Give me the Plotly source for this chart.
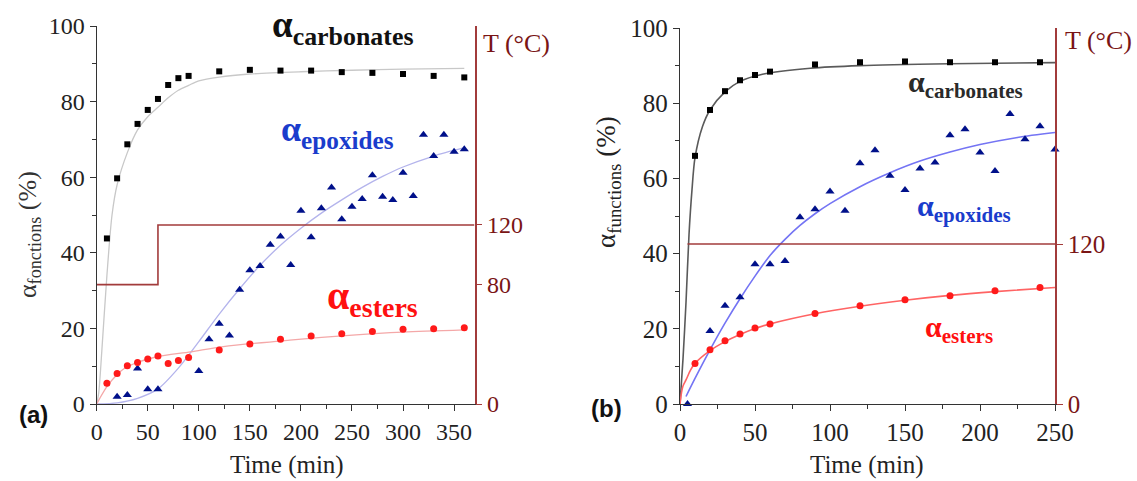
import plotly.graph_objects as go

# ---------------- Panel (a) data ----------------
a_carb_t = [10, 20, 30, 40, 50, 60, 70, 80, 90, 120, 150, 180, 210, 240, 270, 300, 330, 360]
a_carb_v = [43.8, 59.7, 68.7, 74.1, 77.8, 80.7, 84.4, 86.2, 86.8, 88.0, 88.4, 88.2, 88.2, 87.8, 87.6, 87.3, 86.8, 86.4]
a_carb_fit_t = [0, 2, 5, 10, 15, 20, 30, 40, 50, 60, 70, 80, 90, 100, 120, 150, 200, 250, 300, 360]
a_carb_fit_v = [0, 3, 14, 34, 50, 58, 66.5, 72.5, 76, 78.5, 81, 83, 84.3, 85.5, 86.5, 87.3, 87.9, 88.3, 88.6, 88.8]

a_epo_t = [20, 30, 40, 50, 60, 100, 110, 120, 130, 140, 150, 160, 170, 180, 190, 200, 210, 220, 230, 240,
           250, 260, 270, 280, 290, 300, 310, 320, 330, 340, 350, 360]
a_epo_v = [1.9, 2.4, 9.4, 3.9, 3.9, 8.7, 17.1, 21.2, 18.1, 30.2, 35.4, 36.5, 42.1, 44.3, 36.8, 51.1, 44.1, 51.8, 57.3, 48.9,
           52.2, 54.2, 60.5, 54.8, 54.0, 61.2, 55.0, 71.2, 65.6, 71.2, 66.7, 67.4]
a_epo_fit_t = [0, 20, 40, 60, 80, 100, 120, 140, 160, 180, 200, 220, 240, 260, 280, 300, 330, 360]
a_epo_fit_v = [0, 0.3, 1.5, 4.0, 9.5, 16.5, 23.8, 30.5, 36.7, 42.0, 46.5, 50.5, 54.0, 57.3, 60.2, 62.7, 65.6, 67.8]

a_est_t = [10, 20, 30, 40, 50, 60, 70, 80, 90, 120, 150, 180, 210, 240, 270, 300, 330, 360]
a_est_v = [5.5, 8.1, 10.1, 11.0, 11.9, 12.7, 10.7, 11.5, 12.3, 14.3, 15.9, 17.1, 18.0, 18.6, 19.2, 19.8, 19.9, 20.2]
a_est_fit_t = [0, 3, 10, 20, 27, 40, 59, 92, 124, 189, 254, 300, 360]
a_est_fit_v = [0, 1.5, 4.6, 7.8, 9.4, 11, 12.5, 13.8, 15.2, 16.9, 18.3, 19.0, 19.6]

a_temp_t = [0, 60, 60, 370]
a_temp_v = [80, 80, 120, 120]

# ---------------- Panel (b) data ----------------
b_carb_t = [10, 20, 30, 40, 50, 60, 90, 120, 150, 180, 210, 240]
b_carb_v = [66.0, 78.2, 83.2, 86.1, 87.5, 88.4, 90.3, 90.9, 91.1, 90.9, 90.9, 90.9]
b_carb_fit_t = [0, 2, 4, 6, 8, 10, 15, 20, 30, 40, 55, 87, 120, 180, 250]
b_carb_fit_v = [0, 12, 27, 45, 57, 65.5, 73.8, 78.2, 83, 85.8, 87.7, 89.3, 90, 90.5, 90.8]

b_epo_t = [5, 20, 30, 40, 50, 60, 70, 80, 90, 100, 110, 120, 130, 140, 150, 160, 170, 180, 190, 200,
           210, 220, 230, 240, 250]
b_epo_v = [0, 19.4, 26.1, 28.4, 37.2, 37.2, 38.0, 49.7, 51.8, 56.5, 51.4, 64.0, 67.5, 60.7, 56.9, 62.6, 64.2, 71.5, 73.1, 66.9,
           62.0, 77.1, 70.4, 73.9, 67.7]
b_epo_fit_t = [4, 10, 20, 30, 40, 50, 60, 70, 80, 90, 100, 120, 140, 160, 180, 200, 225, 250]
b_epo_fit_v = [2, 6.8, 14.4, 21.5, 28.0, 34.0, 39.5, 43.8, 47.5, 50.6, 53.3, 57.8, 61.5, 64.6, 67.0, 69.0, 70.9, 72.2]

b_est_t = [10, 20, 30, 40, 50, 60, 90, 120, 150, 180, 210, 240]
b_est_v = [10.8, 14.4, 16.8, 18.6, 20.2, 21.3, 24.1, 26.1, 27.7, 28.8, 30.1, 31.0]
b_est_fit_t = [0, 1, 2, 4, 7, 10, 20, 30, 40, 50, 60, 90, 120, 150, 180, 210, 250]
b_est_fit_v = [0, 3, 4.8, 6.4, 9, 10.8, 14.2, 16.6, 18.5, 20.1, 21.3, 24, 26, 27.6, 28.9, 29.9, 31]

b_temp_t = [5, 250]
b_temp_v = [120, 120]

# ---------------- styling ----------------
W, H = 1137, 481
SERIF = "Liberation Serif"
SANS = "Liberation Sans"
TEMP = "#a23b3b"
TEMP_TXT = "#7a1515"
AX = "#333333"

def px_x(p):
    return p / W

def px_y(p):
    return 1 - p / H

fig = go.Figure()

def line(x, y, color, xa, ya, width=1.3):
    fig.add_trace(go.Scatter(x=x, y=y, mode="lines", line=dict(color=color, width=width, shape="spline", smoothing=0.8),
                             xaxis=xa, yaxis=ya, showlegend=False, hoverinfo="skip"))

def pts(x, y, color, symbol, size, xa, ya):
    fig.add_trace(go.Scatter(x=x, y=y, mode="markers", marker=dict(color=color, symbol=symbol, size=size, line=dict(width=0)),
                             xaxis=xa, yaxis=ya, showlegend=False, cliponaxis=False))

# Panel (a)
fig.add_trace(go.Scatter(x=a_temp_t, y=a_temp_v, mode="lines", line=dict(color=TEMP, width=1.6),
                         xaxis="x", yaxis="y2", showlegend=False))
line(a_carb_fit_t, a_carb_fit_v, "#c8c8c8", "x", "y")
line(a_epo_fit_t, a_epo_fit_v, "#b4b4ec", "x", "y")
line(a_est_fit_t, a_est_fit_v, "#f4a8a8", "x", "y")
pts(a_carb_t, a_carb_v, "#000000", "square", 6, "x", "y")
pts(a_epo_t, a_epo_v, "#00108a", "triangle-up", 8, "x", "y")
pts(a_est_t, a_est_v, "#ff1a1a", "circle", 7, "x", "y")

# Panel (b)
fig.add_trace(go.Scatter(x=b_temp_t, y=b_temp_v, mode="lines", line=dict(color=TEMP, width=1.6),
                         xaxis="x2", yaxis="y4", showlegend=False))
line(b_carb_fit_t, b_carb_fit_v, "#5a5a5a", "x2", "y3", 1.6)
line(b_epo_fit_t, b_epo_fit_v, "#7474f4", "x2", "y3", 1.6)
line(b_est_fit_t, b_est_fit_v, "#ff6464", "x2", "y3", 1.6)
pts(b_carb_t, b_carb_v, "#000000", "square", 6, "x2", "y3")
pts(b_epo_t, b_epo_v, "#00108a", "triangle-up", 8, "x2", "y3")
pts(b_est_t, b_est_v, "#ff1a1a", "circle", 7, "x2", "y3")

tickfont_a = dict(family=SERIF, size=24, color="#222222")
tickfont_b = dict(family=SERIF, size=25, color="#222222")

common = dict(showgrid=False, zeroline=False, showline=True, linecolor=AX, linewidth=1.3, automargin=False,
              ticks="outside", ticklen=6, tickcolor=AX, tickwidth=1.2)
right = dict(showgrid=False, zeroline=False, showline=True, linecolor=TEMP, linewidth=1.6, automargin=False,
             ticks="outside", ticklen=6, tickcolor=TEMP, tickwidth=1.2)

fig.update_layout(
    template="none",
    width=W, height=H, margin=dict(l=0, r=0, t=0, b=0, pad=0),
    paper_bgcolor="white", plot_bgcolor="rgba(0,0,0,0)", showlegend=False,
    font=dict(family=SERIF),
    xaxis=dict(domain=[px_x(96.7), px_x(474.5)], range=[0, 370], anchor="y", tickvals=[0, 50, 100, 150, 200, 250, 300, 350],
               minor=dict(ticks="outside", ticklen=4, dtick=25, tick0=0, tickcolor=AX), tickfont=tickfont_a, **common),
    yaxis=dict(domain=[px_y(404), px_y(26)], range=[0, 100], anchor="x", dtick=20,
               minor=dict(ticks="outside", ticklen=4, dtick=10, tickcolor=AX), tickfont=tickfont_a, **common),
    yaxis2=dict(overlaying="y", side="right", anchor="x", range=[0, 253.4], tickvals=[0, 80, 120],
                tickfont=dict(family=SERIF, size=24, color=TEMP_TXT), **right),
    xaxis2=dict(domain=[px_x(680), px_x(1055)], range=[0, 250], anchor="y3", dtick=50,
                minor=dict(ticks="outside", ticklen=4, dtick=25, tickcolor=AX), tickfont=tickfont_b, **common),
    yaxis3=dict(domain=[px_y(404), px_y(28)], range=[0, 100], anchor="x2", dtick=20,
                minor=dict(ticks="outside", ticklen=4, dtick=10, tickcolor=AX), tickfont=tickfont_b, **common),
    yaxis4=dict(overlaying="y3", side="right", anchor="x2", range=[0, 282], tickvals=[0, 120],
                tickfont=dict(family=SERIF, size=25, color=TEMP_TXT), **right),
)

ann = []
def label(text, x, y, xref, yref, size, color, family=SERIF, angle=0):
    ann.append(dict(text=text, x=x, y=y, xref=xref, yref=yref, showarrow=False, textangle=angle,
                    font=dict(family=family, size=size, color=color), xanchor="center", yanchor="middle"))

# curve labels (data coordinates)
label("<b>α<sub>carbonates</sub></b>", 241, 99.5, "x", "y", 37, "#111111")
label("<b>α<sub>epoxides</sub></b>", 236, 72, "x", "y", 36, "#1a3ccc")
label("<b>α<sub>esters</sub></b>", 270, 28, "x", "y", 40, "#ff1010")
label("<b>α<sub>carbonates</sub></b>", 190, 85, "x2", "y3", 30, "#2a2a2a")
label("<b>α<sub>epoxides</sub></b>", 189, 52, "x2", "y3", 30, "#1a3ccc")
label("<b>α<sub>esters</sub></b>", 186, 20, "x2", "y3", 30, "#ff1010")

# axis titles (paper coordinates)
label("Time (min)", px_x(287), px_y(465), "paper", "paper", 25, "#222222")
label("Time (min)", px_x(867), px_y(465), "paper", "paper", 25, "#222222")
label("α<sub>fonctions</sub> (%)", px_x(29), px_y(235), "paper", "paper", 26, "#333333", angle=-90)
label("α<sub>functions</sub> (%)", px_x(608), px_y(182), "paper", "paper", 27, "#222222", angle=-90)
label("T (°C)", px_x(516), px_y(43), "paper", "paper", 26, TEMP_TXT)
label("T (°C)", px_x(1098), px_y(40), "paper", "paper", 26, TEMP_TXT)
label("<b>(a)</b>", px_x(33), px_y(414), "paper", "paper", 24, "#111111", family=SANS)
label("<b>(b)</b>", px_x(606), px_y(408), "paper", "paper", 24, "#111111", family=SANS)

fig.update_layout(annotations=ann)
fig.write_html("out.html", config={"displayModeBar": False},
               post_script="document.body.style.margin='0';document.body.style.padding='0';document.body.style.overflow='hidden';")
